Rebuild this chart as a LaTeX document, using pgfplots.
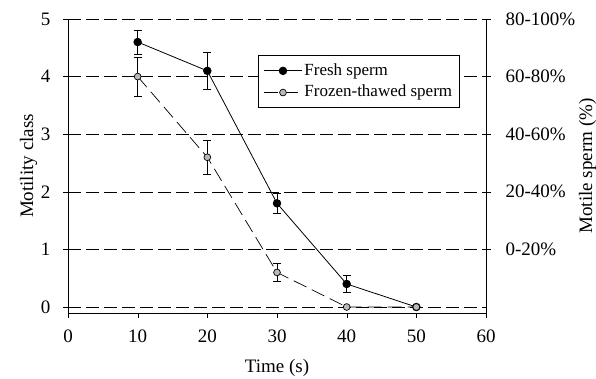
\documentclass[border=0pt]{standalone}
\usepackage{fontspec}
\setmainfont{Liberation Serif}
\usepackage{pgfplots}
\pgfplotsset{compat=1.18}
\begin{document}
\begin{tikzpicture}
\useasboundingbox (-68pt,-66pt) rectangle (528pt,313pt);
\fontsize{19}{22}\selectfont
\begin{axis}[
  width=418pt, height=294pt, scale only axis,
  xmin=0, xmax=60, ymin=-0.104, ymax=5,
  axis x line*=bottom, axis y line*=left,
  xtick={0,10,20,30,40,50,60},
  ytick={0,1,2,3,4,5},
  tick align=outside,
  major tick length=5pt,
  x tick style={black}, y tick style={black},
  /pgf/number format/assume math mode=true,
  tick label style={font=\fontsize{19}{21}\selectfont},
  yticklabel style={xshift=-6pt},
  xticklabel style={yshift=-5pt},
  xlabel={Time (s)}, ylabel={Motility class},
  label style={font=\fontsize{19}{21}\selectfont},
  xlabel style={yshift=-4pt},
  ylabel style={yshift=-9pt},
  ymajorgrids,
  grid style={black, dash pattern=on 13pt off 5pt, line width=0.6pt},
  axis line style={line width=0.8pt},
  clip=false,
  legend style={at={(0.455,0.877)}, anchor=north west, draw=black, line width=0.8pt,
    font=\fontsize{17}{19}\selectfont, inner xsep=5pt, inner ysep=6pt, row sep=3pt},
  legend cell align=left,
  legend image code/.code={\draw[#1, mark repeat=2, mark phase=2] plot coordinates {(0pt,0pt) (19pt,0pt) (38pt,0pt)};},
]
\addplot+[black, solid, line width=0.8pt, mark=*, mark size=3.8pt, mark options={solid, fill=black},
  error bars/.cd, y dir=both, y explicit, error mark options={rotate=90, mark size=4pt, line width=0.8pt}, error bar style={line width=0.8pt}]
  coordinates {(10,4.6) +- (0,0.21) (20,4.1) +- (0,0.32) (30,1.8) +- (0,0.17) (40,0.4) +- (0,0.15) (50,0) +- (0,0)};
\addlegendentry{Fresh sperm}
\addplot+[black, line width=0.7pt, dash pattern=on 14pt off 6pt, mark=*, mark size=3.4pt, mark options={solid, fill=gray!55, draw=black},
  error bars/.cd, y dir=both, y explicit, error mark options={rotate=90, mark size=4pt, line width=0.8pt, solid}, error bar style={line width=0.8pt, solid}]
  coordinates {(10,4.0) +- (0,0.34) (20,2.6) +- (0,0.3) (30,0.6) +- (0,0.16) (40,0) +- (0,0) (50,0) +- (0,0)};
\addlegendentry{Frozen-thawed sperm}
\end{axis}
\begin{axis}[
  width=418pt, height=294pt, scale only axis,
  xmin=0, xmax=60, ymin=-0.104, ymax=5,
  axis x line=none, axis y line*=right,
  ytick={1,2,3,4,5},
  yticklabels={0-20\%,20-40\%,40-60\%,60-80\%,80-100\%},
  tick align=outside, major tick length=5pt,
  y tick style={black},
  tick label style={font=\fontsize{19}{21}\selectfont},
  yticklabel style={xshift=8pt},
  ylabel={Motile sperm (\%)},
  ylabel style={yshift=9pt},
  label style={font=\fontsize{19}{21}\selectfont},
  axis line style={line width=0.8pt},
]
\end{axis}
\end{tikzpicture}
\end{document}
